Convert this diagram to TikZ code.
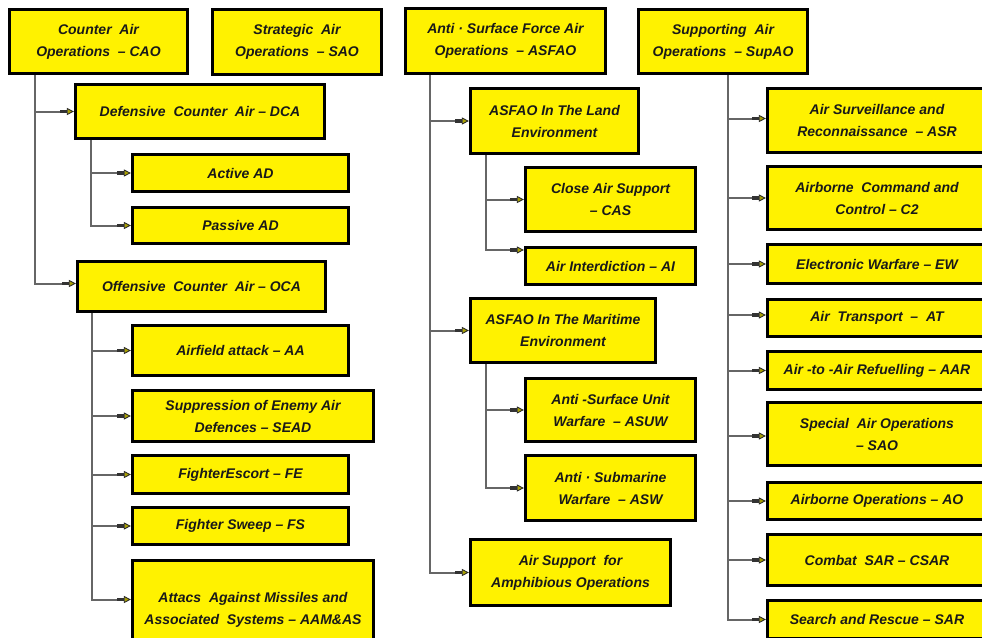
\documentclass[tikz,border=0pt]{standalone}
\usepackage{fontspec}
\setmainfont{Liberation Sans}
\usetikzlibrary{arrows.meta,backgrounds}
\newcommand{\bxnode}[6]{%
  \node[box,minimum width={(#4-#2-3)*1pt},minimum height={(#5-#3-3)*1pt}]
    (#1) at ({(#2+#4)/2},{(#3+#5)/2}) {#6};}
\begin{document}
\begin{tikzpicture}[x=1pt,y=-1pt,
  box/.style={draw=black,line width=3.2pt,fill=yellow,text=black!90,
    font=\fontsize{14}{22}\selectfont\bfseries\itshape,align=center,inner sep=0pt},
  conn/.style={draw=black!60,line width=2pt,
    -{Rectangle[length=7pt,width=3.4pt,color=black!80]Triangle[length=7pt,width=7pt,color=black!85,fill=olive!75!yellow,line width=0.8pt]}}]
\useasboundingbox (0,0) rectangle (982,637);
\clip (0,0) rectangle (982,637);
% top level
\bxnode{cao}{8}{8}{189}{75}{Counter\ \ Air\\Operations\ \ – CAO}
\bxnode{sao}{211}{8}{383}{76}{Strategic\ \ Air\\Operations\ \ – SAO}
\bxnode{asfao}{404}{7}{607}{75}{Anti · Surface Force Air\\Operations\ \ – ASFAO}
\bxnode{supao}{637}{8}{809}{75}{Supporting\ \ Air\\Operations\ \ – SupAO}
% CAO branch
\bxnode{dca}{74}{83}{326}{140}{Defensive\ \ Counter\ \ Air – DCA}
\bxnode{active}{131}{153}{350}{193}{Active AD}
\bxnode{passive}{131}{206}{350}{245}{Passive AD}
\bxnode{oca}{76}{260}{327}{313}{Offensive\ \ Counter\ \ Air – OCA}
\bxnode{airfield}{131}{324}{350}{377}{Airfield attack – AA}
\bxnode{sead}{131}{389}{375}{443}{Suppression of Enemy Air\\Defences – SEAD}
\bxnode{fe}{131}{454}{350}{495}{FighterEscort – FE}
\bxnode{fs}{131}{506}{350}{546}{Fighter Sweep – FS}
\bxnode{aam}{131}{559}{375}{660}{Attacs\ \ Against Missiles and\\Associated\ \ Systems – AAM\&AS}
% ASFAO branch
\bxnode{land}{469}{87}{640}{155}{ASFAO In The Land\\Environment}
\bxnode{cas}{524}{166}{697}{233}{Close Air Support\\– CAS}
\bxnode{ai}{524}{246}{697}{286}{Air Interdiction – AI}
\bxnode{maritime}{469}{297}{657}{364}{ASFAO In The Maritime\\Environment}
\bxnode{asuw}{524}{377}{697}{443}{Anti -Surface Unit\\Warfare\ \ – ASUW}
\bxnode{asw}{524}{454}{697}{522}{Anti · Submarine\\Warfare\ \ – ASW}
\bxnode{amph}{469}{538}{672}{607}{Air Support\ \ for\\Amphibious Operations}
% SupAO branch
\bxnode{asr}{766}{87}{988}{154}{Air Surveillance and\\Reconnaissance\ \ – ASR}
\bxnode{ctwo}{766}{165}{988}{231}{Airborne\ \ Command and\\Control – C2}
\bxnode{ew}{766}{243}{988}{285}{Electronic Warfare – EW}
\bxnode{at}{766}{298}{988}{338}{Air\ \ Transport\ \ –\ \ AT}
\bxnode{aar}{766}{350}{988}{391}{Air -to -Air Refuelling – AAR}
\bxnode{saotwo}{766}{401}{988}{467}{Special\ \ Air Operations\\– SAO}
\bxnode{ao}{766}{481}{988}{521}{Airborne Operations – AO}
\bxnode{csar}{766}{533}{988}{587}{Combat\ \ SAR – CSAR}
\bxnode{sar}{766}{599}{988}{640}{Search and Rescue – SAR}
% connectors
\begin{scope}[on background layer]
\fill[white] (0,0) rectangle (982,637);
\foreach \c/\s in {dca/0,oca/3}
  \draw[conn] ([xshift=27pt]cao.south west) |- ([yshift=\s pt]\c.west);
\foreach \c in {active,passive}
  \draw[conn] ([xshift=17pt]dca.south west) |- (\c.west);
\foreach \c/\s in {airfield/0,sead/0,fe/0,fs/0,aam/10}
  \draw[conn] ([xshift=16pt]oca.south west) |- ([yshift=\s pt]\c.west);
\foreach \c in {land,maritime,amph}
  \draw[conn] ([xshift=26pt]asfao.south west) |- (\c.west);
\foreach \c/\s in {cas/0,ai/16}
  \draw[conn] ([xshift=17pt]land.south west) |- ([yshift=\s pt]\c.west);
\foreach \c in {asuw,asw}
  \draw[conn] ([xshift=17pt]maritime.south west) |- (\c.west);
\foreach \c/\s in {asr/2,ctwo/0,ew/0,at/3,aar/0,saotwo/-2,ao/0,csar/0,sar/0}
  \draw[conn] ([xshift=91pt]supao.south west) |- ([yshift=\s pt]\c.west);
\end{scope}
\end{tikzpicture}
\end{document}
